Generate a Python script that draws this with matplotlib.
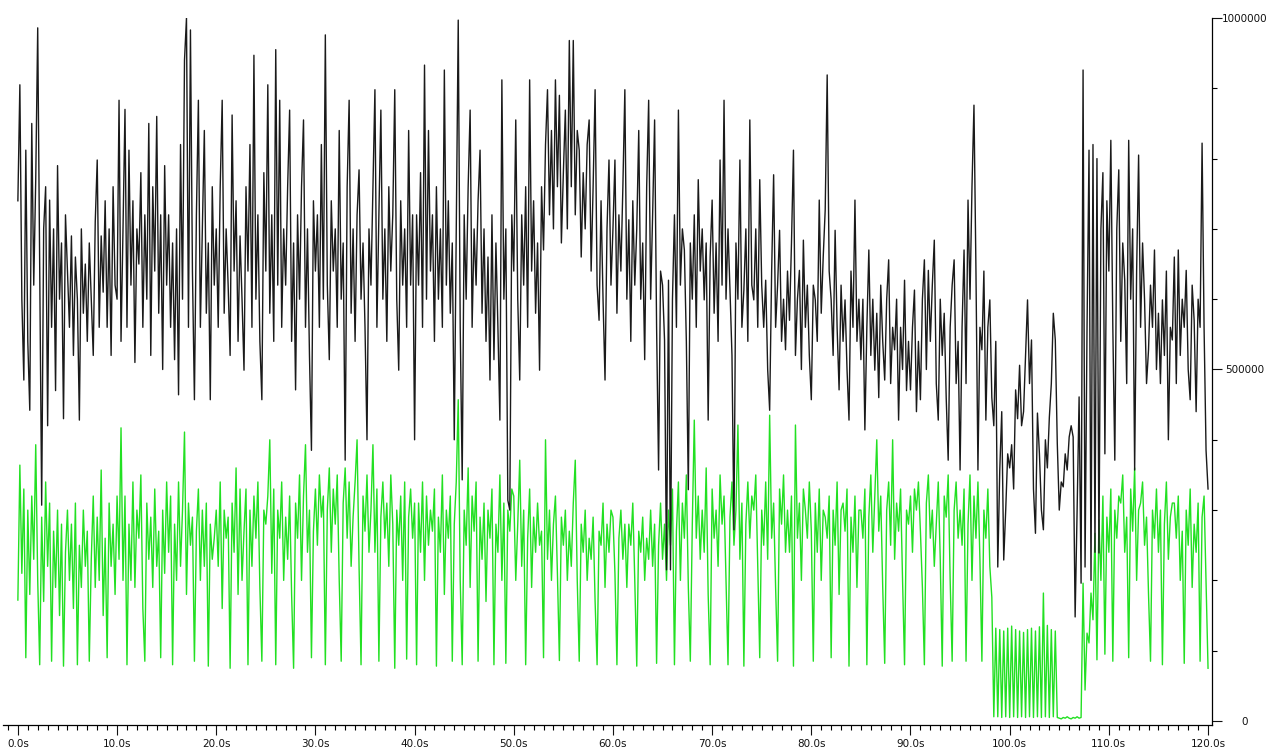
"""
Throughput of two streams over a two minute capture
"""
import numpy as np
import matplotlib.pyplot as plt
from matplotlib.ticker import MultipleLocator, FixedLocator

STEP = 0.2  # seconds between samples

# values in thousands, one row per 5 seconds
black_k = [
    740, 905, 600, 485, 812, 540, 442, 850, 620, 770, 986, 640, 307, 700, 760, 420, 741, 560, 700, 470, 790, 600, 680, 430, 720,
    640, 560, 690, 520, 660, 600, 428, 700, 580, 650, 540, 680, 600, 520, 710, 798, 560, 690, 610, 740, 560, 700, 520, 760, 620,
    600, 883, 540, 700, 870, 560, 812, 620, 740, 510, 700, 650, 780, 560, 720, 600, 850, 520, 760, 640, 860, 580, 720, 500, 790,
    620, 720, 560, 680, 514, 700, 464, 820, 600, 940, 1000, 560, 983, 640, 457, 720, 883, 560, 700, 840, 580, 680, 457, 760, 620,
    700, 560, 760, 883, 580, 700, 620, 520, 862, 640, 740, 540, 690, 600, 499, 760, 640, 820, 560, 947, 600, 720, 540, 457, 780,
    640, 905, 580, 720, 540, 955, 620, 883, 560, 700, 620, 760, 869, 540, 680, 471, 720, 600, 760, 855, 560, 700, 520, 385, 740,
    640, 720, 560, 820, 600, 976, 620, 514, 740, 640, 700, 560, 840, 600, 680, 371, 760, 883, 580, 700, 540, 720, 784, 600, 680,
    560, 400, 700, 620, 760, 898, 560, 720, 869, 600, 700, 540, 760, 640, 720, 898, 600, 499, 740, 620, 700, 560, 840, 620, 720,
    400, 720, 620, 780, 560, 933, 600, 840, 640, 720, 540, 760, 600, 700, 560, 926, 620, 740, 580, 680, 400, 700, 997, 560, 343,
    720, 600, 760, 869, 560, 700, 620, 740, 812, 580, 700, 540, 660, 485, 720, 514, 680, 560, 428, 912, 600, 700, 314, 300, 720,
    640, 855, 600, 485, 720, 620, 760, 560, 912, 640, 740, 580, 680, 499, 760, 670, 820, 898, 720, 840, 700, 912, 760, 890, 680,
    780, 869, 700, 968, 760, 968, 720, 840, 812, 660, 780, 700, 820, 855, 640, 760, 898, 620, 570, 740, 600, 485, 700, 798, 620,
    700, 798, 580, 720, 640, 760, 898, 600, 713, 540, 740, 620, 700, 840, 600, 680, 514, 760, 883, 600, 720, 855, 560, 357, 640,
    620, 542, 215, 627, 215, 600, 720, 560, 869, 620, 700, 670, 540, 329, 680, 600, 720, 560, 770, 640, 700, 599, 680, 428, 660,
    741, 580, 680, 540, 798, 620, 883, 600, 700, 613, 520, 272, 680, 600, 798, 560, 613, 700, 540, 855, 620, 599, 700, 560, 770,
    620, 560, 627, 500, 442, 640, 777, 560, 620, 698, 540, 600, 528, 640, 570, 680, 812, 520, 600, 641, 500, 684, 560, 620, 520,
    457, 620, 599, 540, 741, 580, 660, 727, 919, 640, 599, 520, 698, 560, 471, 620, 540, 599, 500, 428, 640, 560, 741, 540, 600,
    514, 600, 414, 560, 670, 520, 600, 499, 580, 460, 620, 540, 485, 600, 656, 480, 560, 528, 600, 428, 560, 500, 627, 470, 540,
    471, 560, 613, 440, 540, 457, 600, 656, 500, 641, 540, 620, 684, 480, 428, 600, 520, 580, 460, 371, 560, 620, 656, 480, 540,
    357, 560, 670, 480, 741, 600, 760, 876, 640, 357, 560, 528, 640, 428, 560, 599, 460, 420, 540, 219, 357, 440, 229, 300, 380,
    360, 393, 330, 471, 430, 506, 420, 440, 520, 599, 480, 542, 330, 267, 438, 380, 300, 272, 400, 360, 432, 480, 580, 542, 395,
    300, 340, 333, 380, 357, 404, 420, 404, 148, 300, 461, 196, 926, 219, 560, 812, 200, 820, 240, 800, 239, 700, 780, 380, 740,
    640, 826, 560, 371, 700, 784, 540, 680, 627, 480, 826, 600, 700, 357, 640, 805, 560, 680, 599, 480, 528, 620, 560, 670, 500,
    580, 480, 599, 520, 640, 400, 560, 542, 660, 480, 670, 520, 600, 560, 641, 500, 457, 620, 570, 440, 600, 560, 822, 560, 385,
    330,
]

green_k = [
    172, 364, 210, 330, 90, 300, 180, 320, 230, 393, 200, 80, 290, 170, 340, 220, 310, 85, 270, 190, 300, 150, 280, 78, 240,
    300, 200, 280, 160, 310, 80, 250, 190, 300, 220, 270, 85, 230, 320, 190, 290, 200, 357, 150, 260, 90, 310, 220, 280, 180,
    320, 230, 417, 200, 320, 80, 280, 200, 340, 190, 300, 260, 350, 160, 85, 310, 230, 290, 190, 330, 220, 270, 90, 300, 210,
    340, 240, 320, 80, 280, 200, 340, 220, 300, 411, 180, 310, 250, 290, 85, 270, 330, 200, 300, 220, 310, 78, 280, 230, 260,
    300, 220, 340, 160, 300, 260, 290, 75, 310, 240, 360, 180, 330, 200, 270, 330, 80, 300, 220, 320, 260, 340, 190, 85, 300,
    280, 320, 400, 210, 330, 80, 300, 260, 340, 200, 290, 230, 320, 180, 75, 310, 260, 350, 200, 320, 393, 240, 300, 90, 270,
    330, 250, 350, 290, 320, 80, 300, 360, 240, 330, 280, 350, 200, 85, 310, 360, 260, 340, 220, 290, 340, 400, 220, 80, 320,
    270, 350, 240, 300, 393, 240, 330, 85, 290, 340, 260, 310, 220, 350, 280, 75, 300, 250, 320, 200, 340, 88, 290, 330, 260,
    310, 80, 310, 240, 340, 200, 320, 250, 300, 270, 330, 78, 290, 240, 350, 180, 300, 260, 320, 85, 280, 340, 457, 200, 80,
    300, 250, 360, 190, 320, 270, 340, 85, 290, 230, 310, 170, 300, 260, 330, 80, 280, 240, 350, 200, 310, 82, 300, 270, 330,
    320, 200, 280, 371, 220, 300, 80, 260, 330, 190, 290, 240, 310, 250, 270, 90, 400, 230, 300, 200, 280, 320, 210, 86, 290,
    250, 300, 200, 270, 220, 310, 371, 200, 85, 280, 240, 300, 200, 260, 230, 290, 170, 80, 270, 250, 310, 190, 280, 240, 300,
    290, 210, 80, 260, 300, 230, 280, 190, 280, 250, 310, 200, 78, 270, 240, 290, 200, 260, 230, 300, 220, 280, 82, 250, 310,
    230, 280, 200, 300, 250, 330, 80, 270, 340, 200, 310, 260, 350, 190, 85, 280, 428, 260, 320, 230, 300, 240, 360, 180, 80,
    330, 260, 300, 220, 350, 280, 320, 200, 80, 290, 340, 250, 300, 421, 230, 310, 78, 280, 340, 260, 320, 300, 350, 220, 90,
    300, 250, 340, 230, 435, 260, 310, 190, 85, 330, 280, 350, 240, 300, 240, 320, 78, 421, 260, 310, 200, 330, 300, 260, 340,
    270, 85, 310, 240, 330, 200, 300, 290, 260, 320, 90, 300, 250, 340, 180, 300, 310, 270, 330, 78, 290, 240, 320, 190, 300,
    300, 260, 330, 80, 290, 350, 240, 320, 400, 270, 320, 190, 82, 300, 340, 250, 400, 230, 310, 270, 330, 200, 80, 300, 280,
    320, 240, 330, 300, 340, 270, 190, 80, 310, 350, 260, 300, 220, 280, 340, 230, 78, 320, 290, 350, 200, 85, 300, 340, 260,
    300, 250, 330, 85, 280, 350, 200, 320, 260, 340, 230, 85, 300, 260, 330, 220, 176, 6, 132, 6, 130, 5, 128, 6, 132,
    5, 135, 6, 130, 5, 128, 6, 126, 5, 130, 6, 132, 5, 128, 6, 134, 5, 182, 6, 136, 5, 130, 6, 128, 5,
    4, 3, 5, 4, 6, 4, 3, 5, 4, 6, 4, 5, 196, 44, 125, 111, 182, 144, 267, 87, 286, 200, 320, 95, 290,
    240, 330, 85, 300, 260, 320, 310, 350, 240, 290, 90, 330, 270, 360, 200, 300, 310, 340, 250, 290, 180, 85, 300, 260, 330,
    240, 300, 80, 280, 340, 230, 290, 310, 310, 260, 320, 200, 270, 82, 300, 250, 330, 190, 280, 240, 310, 85, 290, 320, 200,
    75,
]

x_major = list(range(0, 121, 10))
x_labels = [f"{v:.1f}s" for v in x_major]
y_major = [0, 500000, 1000000]
y_labels = ["0", "500000", "1000000"]


def make_chart():
    """
    Draw both series against a right hand value axis
    """
    black = np.array(black_k) * 1000
    green = np.array(green_k) * 1000
    t_black = np.arange(len(black)) * STEP
    t_green = np.arange(len(green)) * STEP

    fig = plt.figure(figsize=(12.72, 7.53), dpi=100)
    ax = fig.add_axes([3 / 1272, 28.5 / 753, 1209 / 1272, 706.5 / 753])

    ax.plot(t_green, green, color="#22e022", lw=1.0, zorder=2)
    ax.plot(t_black, black, color="#1a1a1a", lw=1.0, zorder=3)

    ax.set_xlim(-1.5, 120.4)
    ax.set_ylim(-5000, 1000000)

    for side in ("left", "top"):
        ax.spines[side].set_visible(False)
    ax.spines["bottom"].set_linewidth(0.9)
    ax.spines["right"].set_linewidth(0.9)

    ax.xaxis.set_major_locator(FixedLocator(x_major))
    ax.xaxis.set_minor_locator(MultipleLocator(1))
    ax.set_xticklabels(x_labels)

    ax.yaxis.tick_right()
    ax.yaxis.set_major_locator(FixedLocator(y_major))
    ax.yaxis.set_minor_locator(MultipleLocator(100000))
    ax.set_yticklabels(y_labels)

    ax.tick_params(axis="x", which="major", direction="out", length=7, width=0.8,
                   pad=3.5, labelsize=7.5, colors="#111111")
    ax.tick_params(axis="x", which="minor", direction="out", length=3.5, width=0.8)
    ax.tick_params(axis="y", which="major", direction="out", length=7, width=0.8,
                   pad=16.5, labelsize=7.5, colors="#111111")
    ax.tick_params(axis="y", which="minor", direction="out", length=3.5, width=0.8)
    plt.setp(ax.get_yticklabels(), ha="center")

    fig.savefig("out.png", dpi=100, facecolor="white")


make_chart()
